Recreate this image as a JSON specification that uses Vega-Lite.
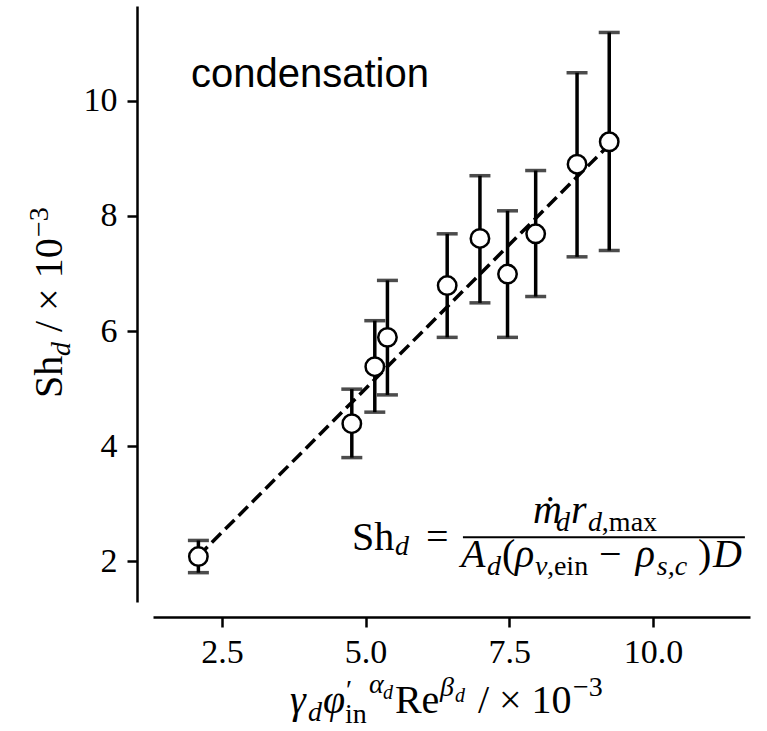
{
  "$schema": "https://vega.github.io/schema/vega-lite/v6.json",
  "width": 597,
  "height": 596,
  "autosize": {"type": "none"},
  "padding": {"left": 153, "top": 6, "right": 17, "bottom": 129},
  "background": "white",
  "config": {
    "view": {"stroke": null},
    "axis": {
      "domainColor": "black", "domainWidth": 2.5,
      "tickColor": "black", "tickWidth": 2.5, "tickSize": 10,
      "labelFont": "Liberation Serif", "labelFontSize": 34, "labelColor": "black",
      "labelOverlap": false, "grid": false
    }
  },
  "datasets": {
    "pts": [
      {"x": 2.09, "y": 2.08, "lo": 1.80, "hi": 2.36},
      {"x": 4.76, "y": 4.39, "lo": 3.80, "hi": 4.99},
      {"x": 5.16, "y": 5.38, "lo": 4.59, "hi": 6.18},
      {"x": 5.38, "y": 5.89, "lo": 4.89, "hi": 6.88},
      {"x": 6.42, "y": 6.79, "lo": 5.89, "hi": 7.69},
      {"x": 6.99, "y": 7.61, "lo": 6.49, "hi": 8.70},
      {"x": 7.47, "y": 6.99, "lo": 5.89, "hi": 8.09},
      {"x": 7.96, "y": 7.69, "lo": 6.60, "hi": 8.79},
      {"x": 8.68, "y": 8.90, "lo": 7.29, "hi": 10.49},
      {"x": 9.24, "y": 9.29, "lo": 7.40, "hi": 11.19}
    ],
    "fit": [{"x": 2.09, "y": 2.09}, {"x": 9.24, "y": 9.24}],
    "bar": [{"x": 6.694, "x2": 11.601, "y": 2.417}],
    "up40": [
      {"x": 4.762, "y": 2.191, "text": "Sh"},
      {"x": 6.050, "y": 2.191, "text": "="},
      {"x": 7.373, "y": 1.896, "text": "("},
      {"x": 9.060, "y": 1.896, "text": "−"},
      {"x": 10.783, "y": 1.896, "text": ")"},
      {"x": 5.510, "y": -0.643, "text": "Re"},
      {"x": 6.955, "y": -0.643, "text": "/ × 10"}
    ],
    "it40": [
      {"x": 7.912, "y": 2.661, "text": "ṁ"},
      {"x": 8.573, "y": 2.661, "text": "r"},
      {"x": 6.659, "y": 1.896, "text": "A"},
      {"x": 7.599, "y": 1.896, "text": "ρ"},
      {"x": 9.703, "y": 1.896, "text": "ρ"},
      {"x": 11.044, "y": 1.896, "text": "D"},
      {"x": 3.683, "y": -0.643, "text": "γ"},
      {"x": 4.258, "y": -0.643, "text": "φ"}
    ],
    "it28": [
      {"x": 5.511, "y": 2.104, "text": "d"},
      {"x": 8.312, "y": 2.522, "text": "d"},
      {"x": 8.869, "y": 2.522, "text": "d"},
      {"x": 7.112, "y": 1.757, "text": "d"},
      {"x": 7.947, "y": 1.757, "text": "v"},
      {"x": 10.069, "y": 1.757, "text": "s,c"},
      {"x": 3.997, "y": -0.782, "text": "d"},
      {"x": 5.058, "y": -0.295, "text": "α"},
      {"x": 6.294, "y": -0.347, "text": "β"}
    ],
    "up28": [
      {"x": 9.112, "y": 2.522, "text": ",max"},
      {"x": 8.156, "y": 1.757, "text": ",ein"},
      {"x": 4.658, "y": -0.400, "text": "′"},
      {"x": 4.641, "y": -0.817, "text": "in"},
      {"x": 8.608, "y": -0.347, "text": "−3"}
    ],
    "it20": [
      {"x": 5.302, "y": -0.400, "text": "d"},
      {"x": 6.555, "y": -0.452, "text": "d"}
    ],
    "up40r": [
      {"x": -0.284, "y": 4.835, "text": "Sh"},
      {"x": -0.284, "y": 5.983, "text": "/ × 10"}
    ],
    "it28r": [
      {"x": -0.144, "y": 5.565, "text": "d"}
    ],
    "up28r": [
      {"x": -0.527, "y": 7.635, "text": "−3"}
    ],
    "sans": [
      {"x": 1.961, "y": 10.243, "text": "condensation"}
    ]
  },
  "encoding": {
    "x": {"field": "x", "type": "quantitative", "title": null,
          "scale": {"domain": [1.30, 11.69], "nice": false, "zero": false},
          "axis": {"title": null, "values": [2.5, 5, 7.5, 10], "format": ".1f", "offset": 15, "labelPadding": 8}},
    "y": {"field": "y", "type": "quantitative", "title": null,
          "scale": {"domain": [1.29, 11.65], "nice": false, "zero": false},
          "axis": {"title": null, "values": [2, 4, 6, 8, 10], "offset": 16, "labelPadding": 10}}
  },
  "layer": [
    {
      "data": {"name": "fit"},
      "mark": {"type": "line", "color": "black", "strokeWidth": 3.5, "strokeDash": [13, 6]}
    },
    {
      "data": {"name": "pts"},
      "mark": {"type": "errorbar", "ticks": {"size": 21, "thickness": 3.5, "color": "black"}, "rule": {"strokeWidth": 3.5, "color": "black"}},
      "encoding": {
        "y": {"field": "lo", "type": "quantitative", "title": null, "scale": {"domain": [1.29, 11.65], "nice": false, "zero": false}, "axis": {"title": null, "values": [2, 4, 6, 8, 10], "offset": 16, "labelPadding": 10}},
        "y2": {"field": "hi", "title": null}
      }
    },
    {
      "data": {"name": "pts"},
      "mark": {"type": "point", "shape": "circle", "filled": false, "fill": "white", "fillOpacity": 1, "stroke": "black", "strokeWidth": 2.5, "size": 340, "opacity": 1}
    },
    {
      "data": {"name": "bar"},
      "mark": {"type": "rule", "color": "black", "strokeWidth": 2},
      "encoding": {"x2": {"field": "x2", "title": null}}
    },
    {
      "data": {"name": "up40"},
      "mark": {"type": "text", "align": "left", "baseline": "alphabetic", "font": "Liberation Serif", "fontSize": 40, "color": "black"},
      "encoding": {"text": {"field": "text"}}
    },
    {
      "data": {"name": "it40"},
      "mark": {"type": "text", "align": "left", "baseline": "alphabetic", "font": "Liberation Serif", "fontSize": 40, "fontStyle": "italic", "color": "black"},
      "encoding": {"text": {"field": "text"}}
    },
    {
      "data": {"name": "it28"},
      "mark": {"type": "text", "align": "left", "baseline": "alphabetic", "font": "Liberation Serif", "fontSize": 28, "fontStyle": "italic", "color": "black"},
      "encoding": {"text": {"field": "text"}}
    },
    {
      "data": {"name": "up28"},
      "mark": {"type": "text", "align": "left", "baseline": "alphabetic", "font": "Liberation Serif", "fontSize": 28, "color": "black"},
      "encoding": {"text": {"field": "text"}}
    },
    {
      "data": {"name": "it20"},
      "mark": {"type": "text", "align": "left", "baseline": "alphabetic", "font": "Liberation Serif", "fontSize": 20, "fontStyle": "italic", "color": "black"},
      "encoding": {"text": {"field": "text"}}
    },
    {
      "data": {"name": "up40r"},
      "mark": {"type": "text", "align": "left", "baseline": "alphabetic", "angle": 270, "font": "Liberation Serif", "fontSize": 40, "color": "black"},
      "encoding": {"text": {"field": "text"}}
    },
    {
      "data": {"name": "it28r"},
      "mark": {"type": "text", "align": "left", "baseline": "alphabetic", "angle": 270, "font": "Liberation Serif", "fontSize": 28, "fontStyle": "italic", "color": "black"},
      "encoding": {"text": {"field": "text"}}
    },
    {
      "data": {"name": "up28r"},
      "mark": {"type": "text", "align": "left", "baseline": "alphabetic", "angle": 270, "font": "Liberation Serif", "fontSize": 28, "color": "black"},
      "encoding": {"text": {"field": "text"}}
    },
    {
      "data": {"name": "sans"},
      "mark": {"type": "text", "align": "left", "baseline": "alphabetic", "font": "Liberation Sans", "fontSize": 40, "color": "black"},
      "encoding": {"text": {"field": "text"}}
    }
  ]
}
